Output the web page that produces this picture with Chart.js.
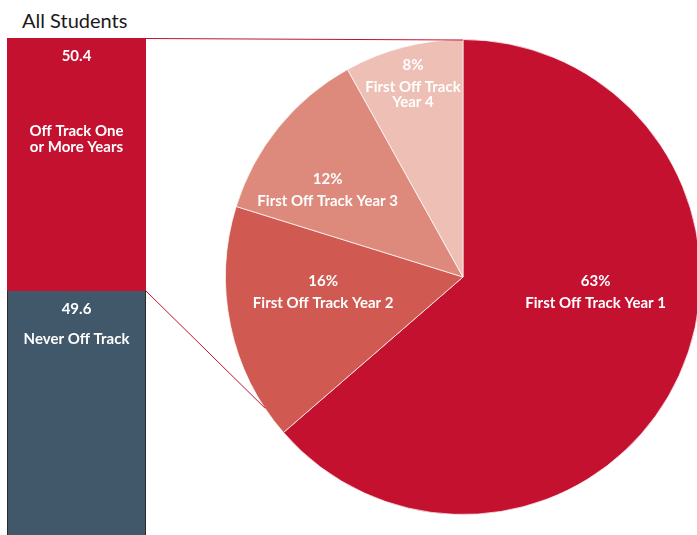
<!DOCTYPE html>
<html><head><meta charset="utf-8">
<script src="https://cdn.jsdelivr.net/npm/chart.js@4"></script>
<style>
html,body{margin:0;padding:0;background:#fff;width:697px;height:535px;overflow:hidden;}
#wrap{position:relative;width:697px;height:535px;overflow:hidden;}
#title{position:absolute;left:22px;top:10px;font:20px Lato, sans-serif;line-height:20px;color:#1a1a1a;white-space:nowrap;}
#bar{position:absolute;left:7px;top:38px;}
#pie{position:absolute;left:0;top:0;}
</style></head><body>
<div id="wrap">
<div id="title"></div>
<canvas id="bar" width="139" height="502"></canvas>
<canvas id="pie" width="710" height="535"></canvas>
</div>
<script>
// ---- data ----
const chartTitle = 'All Students';
const barCategories = ['All Students'];
const barSeriesNames = ['Never Off Track', 'Off Track One or More Years'];
const neverOffTrack = [49.6];
const offTrackOneOrMore = [50.4];
const barNameLines = [['Never Off Track'], ['Off Track One', 'or More Years']];
const pieLabels = ['First Off Track Year 1', 'First Off Track Year 2', 'First Off Track Year 3', 'First Off Track Year 4'];
const pieValues = [63, 16, 12, 8];
const pieNameLines = [['First Off Track Year 1'], ['First Off Track Year 2'], ['First Off Track Year 3'], ['First Off Track', 'Year 4']];

// ---- styles ----
const CRIMSON = '#C3112F';
const SLATE = '#41576A';
const pieColors = [CRIMSON, '#D05A52', '#DD897B', '#EEBFB4'];
const LABEL_FONT = 'bold 15px Lato, sans-serif';
// label placement (polar: degrees clockwise from top, fraction of radius)
const pieLabelPlacement = [[96.4, 0.562], [263.9, 0.592], [302.7, 0.677], [345.5, 0.842]];
const barLabelPlacement = [{valueDy: 18, nameDy: 48}, {valueDy: 18, nameDy: 93}];
const connectorEndAngle = 236.5;

document.getElementById('title').textContent = chartTitle;

const barLabelPlugin = {
  id: 'barLabels',
  afterDatasetsDraw(chart) {
    const ctx = chart.ctx;
    ctx.save();
    ctx.fillStyle = '#fff';
    ctx.font = LABEL_FONT;
    ctx.textAlign = 'center';
    ctx.textBaseline = 'middle';
    chart.data.datasets.forEach((ds, di) => {
      const el = chart.getDatasetMeta(di).data[0];
      const top = Math.min(el.y, el.base);
      const pl = barLabelPlacement[di];
      ctx.fillText(ds.data[0].toFixed(1), el.x, top + pl.valueDy);
      barNameLines[di].forEach((t, li) => ctx.fillText(t, el.x, top + pl.nameDy + li * 16));
    });
    ctx.restore();
  }
};

const barChart = new Chart(document.getElementById('bar'), {
  type: 'bar',
  data: {
    labels: barCategories,
    datasets: [
      {label: barSeriesNames[0], data: neverOffTrack, backgroundColor: SLATE, borderColor: '#2b2b2b',
       borderWidth: {left: 1, right: 1, top: 0, bottom: 0}, borderSkipped: false, inflateAmount: 0},
      {label: barSeriesNames[1], data: offTrackOneOrMore, backgroundColor: CRIMSON, borderWidth: 0, inflateAmount: 0}
    ]
  },
  options: {
    responsive: false, animation: false, devicePixelRatio: 1, events: [],
    layout: {padding: 0},
    barPercentage: 1, categoryPercentage: 1,
    plugins: {legend: {display: false}, tooltip: {enabled: false}},
    scales: {
      x: {display: false, stacked: true},
      y: {display: false, stacked: true, min: 0, max: 100}
    }
  },
  plugins: [barLabelPlugin]
});

const pieLabelPlugin = {
  id: 'pieLabels',
  afterDatasetsDraw(chart) {
    const ctx = chart.ctx;
    const meta = chart.getDatasetMeta(0);
    ctx.save();
    ctx.fillStyle = '#fff';
    ctx.font = LABEL_FONT;
    ctx.textAlign = 'center';
    ctx.textBaseline = 'middle';
    meta.data.forEach((arc, i) => {
      const [deg, frac] = pieLabelPlacement[i];
      const phi = (deg - 90) * Math.PI / 180;
      const cx = arc.x + Math.cos(phi) * arc.outerRadius * frac;
      const cy = arc.y + Math.sin(phi) * arc.outerRadius * frac;
      const lines = [pieValues[i] + '%'].concat(pieNameLines[i]);
      const span = 22 + 15 * (lines.length - 2);
      let y = cy - span / 2;
      lines.forEach((t, li) => {
        ctx.fillText(t, cx, y);
        y += li === 0 ? 22 : 15;
      });
    });
    ctx.restore();
  },
  afterDraw(chart) {
    // connector lines from stacked bar to pie
    const ctx = chart.ctx;
    const arc = chart.getDatasetMeta(0).data[0];
    const barCanvas = barChart.canvas;
    const ox = barCanvas.offsetLeft, oy = barCanvas.offsetTop;
    const topEl = barChart.getDatasetMeta(1).data[0];
    const botEl = barChart.getDatasetMeta(0).data[0];
    const right = ox + topEl.x + topEl.width / 2;
    const phi = (connectorEndAngle - 90) * Math.PI / 180;
    ctx.save();
    ctx.strokeStyle = CRIMSON;
    ctx.lineWidth = 1;
    ctx.beginPath();
    ctx.moveTo(right, oy + topEl.y + 0.5);
    ctx.lineTo(arc.x, arc.y - arc.outerRadius + 0.5);
    ctx.moveTo(right, oy + botEl.y);
    ctx.lineTo(arc.x + Math.cos(phi) * arc.outerRadius, arc.y + Math.sin(phi) * arc.outerRadius);
    ctx.stroke();
    ctx.restore();
  }
};

new Chart(document.getElementById('pie'), {
  type: 'pie',
  data: {
    labels: pieLabels,
    datasets: [{data: pieValues, backgroundColor: pieColors, borderColor: 'rgba(255,255,255,0.7)',
      borderWidth: 1, hoverOffset: 0, hoverBorderWidth: 1}]
  },
  options: {
    responsive: false, animation: false, devicePixelRatio: 1, events: [],
    layout: {padding: {left: 225, top: 39, right: 9, bottom: 20}},
    plugins: {legend: {display: false}, tooltip: {enabled: false}}
  },
  plugins: [pieLabelPlugin]
});
</script>
</body></html>
